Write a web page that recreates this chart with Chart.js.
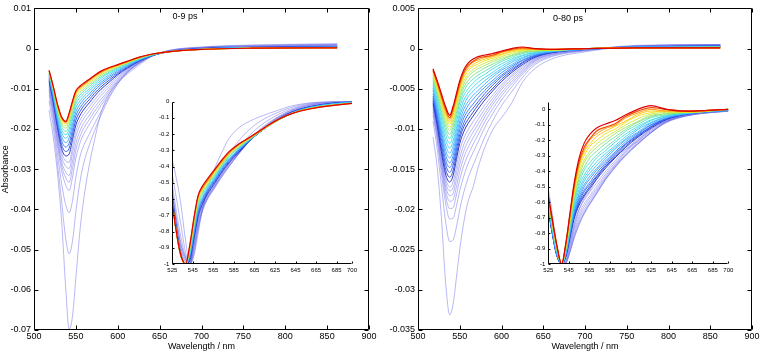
<!DOCTYPE html>
<html><head><meta charset="utf-8">
<script src="https://cdn.jsdelivr.net/npm/chart.js@4.4.1/dist/chart.umd.min.js"></script>
<style>
html,body{margin:0;padding:0;background:#fff;}
#wrap{position:relative;width:762px;height:354px;overflow:hidden;font-family:"Liberation Sans",Arial,sans-serif;background:#fff;}
canvas{position:absolute;}
.lbl{position:absolute;font-size:9px;color:#000;white-space:nowrap;transform:translate(-50%,-50%);}
</style></head><body>
<div id="wrap">
<canvas id="mainL" width="380" height="354" style="left:0;top:0;width:380px;height:354px"></canvas>
<canvas id="mainR" width="382" height="354" style="left:380px;top:0;width:382px;height:354px"></canvas>
<canvas id="insL" width="225" height="185" style="left:135px;top:95px;width:225px;height:185px"></canvas>
<canvas id="insR" width="230" height="185" style="left:510px;top:95px;width:230px;height:185px"></canvas>
<div class="lbl" style="left:185px;top:16px">0-9 ps</div>
<div class="lbl" style="left:568px;top:18px">0-80 ps</div>
</div>
<script>
// ---------- wavelength grid (nm) ----------
const wavelengths = [518,523,528,533,538,542,546,550,555,560,566,572,580,590,600,612,625,640,660,700,760,862];

// ---------- tick labels ----------
const mainXTicks = [500,550,600,650,700,750,800,850,900];
const leftYTicks = [0.01,0,-0.01,-0.02,-0.03,-0.04,-0.05,-0.06,-0.07];
const rightYTicks = [0.005,0,-0.005,-0.01,-0.015,-0.02,-0.025,-0.03,-0.035];
const insetXTicks = [525,545,565,585,605,625,645,665,685,700];
const insetYTicks = [0,-0.1,-0.2,-0.3,-0.4,-0.5,-0.6,-0.7,-0.8,-0.9,-1];

// ---------- left panel (0-9 ps), earliest first ----------
const L00 = [-153e-4,-220e-4,-310e-4,-430e-4,-600e-4,-698e-4,-665e-4,-570e-4,-450e-4,-365e-4,-290e-4,-230e-4,-160e-4,-112e-4,-85e-4,-62e-4,-42e-4,-20e-4,-5e-4,4e-4,9e-4,12e-4];
const L01 = [-130e-4,-195e-4,-285e-4,-380e-4,-475e-4,-510e-4,-478e-4,-405e-4,-330e-4,-280e-4,-240e-4,-206e-4,-166e-4,-122e-4,-88e-4,-59e-4,-38e-4,-19e-4,-5e-4,3e-4,8e-4,11e-4];
const L02 = [-115e-4,-178e-4,-260e-4,-336e-4,-390e-4,-408e-4,-378e-4,-320e-4,-268e-4,-238e-4,-213e-4,-188e-4,-156e-4,-118e-4,-86e-4,-58e-4,-37e-4,-19e-4,-6e-4,3e-4,7e-4,10e-4];
const L03 = [-106e-4,-165e-4,-240e-4,-304e-4,-340e-4,-353e-4,-320e-4,-272e-4,-234e-4,-210e-4,-189e-4,-168e-4,-142e-4,-111e-4,-83e-4,-57e-4,-37e-4,-19e-4,-6e-4,2e-4,6e-4,9e-4];
const L04 = [-100e-4,-158e-4,-230e-4,-291e-4,-322e-4,-333e-4,-298e-4,-252e-4,-218e-4,-196e-4,-177e-4,-157e-4,-134e-4,-106e-4,-80e-4,-56e-4,-36e-4,-19e-4,-7e-4,2e-4,5e-4,8e-4];
const L05 = [-95e-4,-152e-4,-222e-4,-281e-4,-308e-4,-316e-4,-280e-4,-236e-4,-204e-4,-184e-4,-166e-4,-147e-4,-126e-4,-101e-4,-77e-4,-54e-4,-35e-4,-19e-4,-7e-4,1e-4,5e-4,7e-4];
const L06 = [-90e-4,-146e-4,-214e-4,-269e-4,-293e-4,-298e-4,-260e-4,-219e-4,-190e-4,-172e-4,-155e-4,-137e-4,-117e-4,-95e-4,-73e-4,-52e-4,-34e-4,-19e-4,-8e-4,1e-4,4e-4,7e-4];
const L07 = [-86e-4,-140e-4,-206e-4,-259e-4,-280e-4,-283e-4,-244e-4,-205e-4,-178e-4,-161e-4,-145e-4,-128e-4,-109e-4,-89e-4,-69e-4,-50e-4,-33e-4,-19e-4,-8e-4,1e-4,4e-4,6e-4];
const L08 = [-81e-4,-133e-4,-197e-4,-249e-4,-267e-4,-262e-4,-226e-4,-190e-4,-166e-4,-150e-4,-135e-4,-119e-4,-101e-4,-83e-4,-65e-4,-48e-4,-32e-4,-18e-4,-8e-4,0,3e-4,5e-4];
const L09 = [-77e-4,-128e-4,-190e-4,-239e-4,-256e-4,-248e-4,-213e-4,-178e-4,-156e-4,-141e-4,-127e-4,-112e-4,-95e-4,-78e-4,-62e-4,-46e-4,-31e-4,-18e-4,-8e-4,0,3e-4,5e-4];
const L10 = [-73e-4,-123e-4,-183e-4,-229e-4,-245e-4,-235e-4,-201e-4,-167e-4,-147e-4,-133e-4,-120e-4,-105e-4,-89e-4,-73e-4,-59e-4,-44e-4,-30e-4,-18e-4,-8e-4,-1e-4,2e-4,4e-4];
const L11 = [-70e-4,-118e-4,-176e-4,-219e-4,-234e-4,-222e-4,-189e-4,-157e-4,-138e-4,-125e-4,-113e-4,-99e-4,-84e-4,-69e-4,-56e-4,-42e-4,-29e-4,-17e-4,-8e-4,-1e-4,2e-4,4e-4];
const L12 = [-67e-4,-114e-4,-169e-4,-210e-4,-223e-4,-210e-4,-178e-4,-147e-4,-130e-4,-118e-4,-106e-4,-93e-4,-79e-4,-65e-4,-53e-4,-40e-4,-28e-4,-17e-4,-8e-4,-1e-4,2e-4,3e-4];
const L13 = [-64e-4,-110e-4,-163e-4,-202e-4,-214e-4,-200e-4,-168e-4,-138e-4,-122e-4,-111e-4,-100e-4,-88e-4,-74e-4,-61e-4,-50e-4,-38e-4,-27e-4,-16e-4,-8e-4,-1e-4,2e-4,3e-4];
const L14 = [-62e-4,-106e-4,-157e-4,-194e-4,-206e-4,-190e-4,-159e-4,-130e-4,-115e-4,-105e-4,-94e-4,-83e-4,-70e-4,-58e-4,-48e-4,-37e-4,-26e-4,-16e-4,-8e-4,-2e-4,1e-4,3e-4];
const L15 = [-60e-4,-103e-4,-152e-4,-187e-4,-198e-4,-181e-4,-151e-4,-123e-4,-109e-4,-100e-4,-89e-4,-79e-4,-66e-4,-55e-4,-46e-4,-35e-4,-25e-4,-15e-4,-8e-4,-2e-4,1e-4,3e-4];
const L16 = [-58e-4,-100e-4,-147e-4,-181e-4,-192e-4,-174e-4,-144e-4,-117e-4,-104e-4,-95e-4,-85e-4,-75e-4,-63e-4,-52e-4,-44e-4,-34e-4,-24e-4,-15e-4,-8e-4,-2e-4,1e-4,2e-4];
const L17 = [-56e-4,-97e-4,-143e-4,-176e-4,-187e-4,-168e-4,-138e-4,-112e-4,-100e-4,-91e-4,-81e-4,-72e-4,-60e-4,-50e-4,-42e-4,-33e-4,-23e-4,-14e-4,-8e-4,-2e-4,1e-4,2e-4];
const L18 = [-55e-4,-95e-4,-140e-4,-172e-4,-183e-4,-163e-4,-133e-4,-108e-4,-96e-4,-88e-4,-78e-4,-69e-4,-58e-4,-48e-4,-41e-4,-32e-4,-22e-4,-14e-4,-8e-4,-2e-4,1e-4,2e-4];
const L19 = [-54e-4,-94e-4,-138e-4,-170e-4,-181e-4,-160e-4,-130e-4,-105e-4,-93e-4,-85e-4,-76e-4,-67e-4,-56e-4,-47e-4,-40e-4,-31e-4,-22e-4,-14e-4,-8e-4,-2e-4,1e-4,2e-4];

// ---------- right panel (0-80 ps), earliest first ----------
const R00 = [-110e-4,-148e-4,-210e-4,-290e-4,-331e-4,-318e-4,-285e-4,-250e-4,-215e-4,-190e-4,-172e-4,-148e-4,-123e-4,-100e-4,-86e-4,-68e-4,-42e-4,-25e-4,-13e-4,-4e-4,3e-4,5e-4];
const R01 = [-90e-4,-125e-4,-170e-4,-215e-4,-240e-4,-238e-4,-222e-4,-200e-4,-178e-4,-161e-4,-145e-4,-130e-4,-110e-4,-89e-4,-71e-4,-54e-4,-36e-4,-20e-4,-10e-4,-3e-4,4e-4,5e-4];
const R02 = [-83e-4,-115e-4,-155e-4,-192e-4,-212e-4,-211e-4,-196e-4,-177e-4,-158e-4,-143e-4,-129e-4,-116e-4,-98e-4,-80e-4,-64e-4,-48e-4,-32e-4,-18e-4,-9e-4,-2e-4,3e-4,5e-4];
const R03 = [-79e-4,-110e-4,-148e-4,-183e-4,-199e-4,-198e-4,-182e-4,-163e-4,-145e-4,-132e-4,-119e-4,-107e-4,-91e-4,-74e-4,-59e-4,-44e-4,-30e-4,-16e-4,-8e-4,-2e-4,3e-4,5e-4];
const R04 = [-76e-4,-106e-4,-143e-4,-176e-4,-190e-4,-188e-4,-172e-4,-153e-4,-135e-4,-123e-4,-111e-4,-100e-4,-85e-4,-69e-4,-55e-4,-41e-4,-28e-4,-15e-4,-7e-4,-2e-4,3e-4,4e-4];
const R05 = [-74e-4,-103e-4,-139e-4,-171e-4,-183e-4,-180e-4,-163e-4,-144e-4,-127e-4,-115e-4,-104e-4,-94e-4,-80e-4,-65e-4,-51e-4,-38e-4,-26e-4,-14e-4,-7e-4,-2e-4,3e-4,4e-4];
const R06 = [-72e-4,-100e-4,-135e-4,-166e-4,-177e-4,-173e-4,-155e-4,-136e-4,-119e-4,-108e-4,-98e-4,-88e-4,-75e-4,-61e-4,-48e-4,-35e-4,-24e-4,-13e-4,-6e-4,-1e-4,3e-4,4e-4];
const R07 = [-70e-4,-98e-4,-132e-4,-161e-4,-172e-4,-166e-4,-147e-4,-127e-4,-111e-4,-101e-4,-91e-4,-82e-4,-70e-4,-57e-4,-45e-4,-33e-4,-22e-4,-12e-4,-6e-4,-1e-4,2e-4,3e-4];
const R08 = [-68e-4,-95e-4,-128e-4,-156e-4,-166e-4,-158e-4,-138e-4,-118e-4,-103e-4,-93e-4,-84e-4,-75e-4,-64e-4,-52e-4,-41e-4,-30e-4,-20e-4,-11e-4,-5e-4,-1e-4,2e-4,3e-4];
const R09 = [-65e-4,-91e-4,-123e-4,-150e-4,-160e-4,-152e-4,-132e-4,-112e-4,-97e-4,-88e-4,-79e-4,-70e-4,-60e-4,-49e-4,-38e-4,-28e-4,-18e-4,-10e-4,-5e-4,-1e-4,2e-4,3e-4];
const R10 = [-62e-4,-87e-4,-118e-4,-144e-4,-154e-4,-145e-4,-126e-4,-107e-4,-92e-4,-82e-4,-74e-4,-66e-4,-56e-4,-45e-4,-35e-4,-26e-4,-17e-4,-9e-4,-4e-4,-1e-4,2e-4,3e-4];
const R11 = [-59e-4,-83e-4,-112e-4,-138e-4,-148e-4,-139e-4,-120e-4,-101e-4,-86e-4,-77e-4,-69e-4,-61e-4,-52e-4,-42e-4,-33e-4,-24e-4,-15e-4,-9e-4,-4e-4,-1e-4,2e-4,3e-4];
const R12 = [-56e-4,-79e-4,-107e-4,-132e-4,-142e-4,-133e-4,-114e-4,-95e-4,-81e-4,-71e-4,-63e-4,-56e-4,-48e-4,-39e-4,-30e-4,-22e-4,-14e-4,-8e-4,-4e-4,-1e-4,2e-4,2e-4];
const R13 = [-52e-4,-75e-4,-102e-4,-126e-4,-136e-4,-127e-4,-108e-4,-90e-4,-75e-4,-66e-4,-58e-4,-52e-4,-44e-4,-35e-4,-27e-4,-20e-4,-12e-4,-7e-4,-4e-4,-1e-4,2e-4,2e-4];
const R14 = [-49e-4,-71e-4,-97e-4,-120e-4,-130e-4,-121e-4,-102e-4,-84e-4,-70e-4,-60e-4,-53e-4,-47e-4,-40e-4,-32e-4,-25e-4,-17e-4,-11e-4,-6e-4,-3e-4,-1e-4,2e-4,2e-4];
const R15 = [-46e-4,-67e-4,-92e-4,-113e-4,-124e-4,-115e-4,-97e-4,-79e-4,-64e-4,-55e-4,-48e-4,-42e-4,-36e-4,-29e-4,-22e-4,-15e-4,-9e-4,-5e-4,-3e-4,0,1e-4,2e-4];
const R16 = [-43e-4,-63e-4,-86e-4,-107e-4,-118e-4,-108e-4,-91e-4,-73e-4,-58e-4,-50e-4,-43e-4,-37e-4,-32e-4,-25e-4,-19e-4,-13e-4,-8e-4,-5e-4,-3e-4,0,1e-4,2e-4];
const R17 = [-40e-4,-59e-4,-81e-4,-101e-4,-112e-4,-102e-4,-85e-4,-67e-4,-53e-4,-44e-4,-38e-4,-33e-4,-28e-4,-22e-4,-16e-4,-11e-4,-6e-4,-4e-4,-2e-4,0,1e-4,2e-4];
const R18 = [-37e-4,-56e-4,-77e-4,-96e-4,-107e-4,-97e-4,-80e-4,-63e-4,-48e-4,-40e-4,-33e-4,-29e-4,-24e-4,-19e-4,-14e-4,-9e-4,-5e-4,-3e-4,-2e-4,0,1e-4,2e-4];
const R19 = [-35e-4,-53e-4,-72e-4,-91e-4,-102e-4,-92e-4,-75e-4,-58e-4,-44e-4,-35e-4,-29e-4,-25e-4,-21e-4,-16e-4,-12e-4,-8e-4,-4e-4,-3e-4,-2e-4,0,1e-4,1e-4];
const R20 = [-33e-4,-50e-4,-69e-4,-87e-4,-98e-4,-88e-4,-71e-4,-54e-4,-40e-4,-32e-4,-26e-4,-22e-4,-18e-4,-14e-4,-10e-4,-6e-4,-3e-4,-2e-4,-2e-4,0,1e-4,1e-4];
const R21 = [-31e-4,-47e-4,-66e-4,-83e-4,-94e-4,-83e-4,-67e-4,-50e-4,-36e-4,-28e-4,-22e-4,-19e-4,-15e-4,-12e-4,-8e-4,-4e-4,-2e-4,-1e-4,-2e-4,0,1e-4,1e-4];
const R22 = [-29e-4,-45e-4,-63e-4,-80e-4,-91e-4,-80e-4,-64e-4,-48e-4,-33e-4,-25e-4,-20e-4,-16e-4,-13e-4,-10e-4,-7e-4,-3e-4,-1e-4,-1e-4,-1e-4,0,1e-4,1e-4];
const R23 = [-28e-4,-43e-4,-60e-4,-77e-4,-88e-4,-77e-4,-61e-4,-45e-4,-31e-4,-23e-4,-17e-4,-14e-4,-11e-4,-9e-4,-5e-4,-2e-4,0,-1e-4,-1e-4,0,1e-4,1e-4];
const R24 = [-27e-4,-42e-4,-59e-4,-75e-4,-86e-4,-75e-4,-59e-4,-43e-4,-29e-4,-21e-4,-16e-4,-12e-4,-10e-4,-8e-4,-4e-4,-1e-4,1e-4,0,-1e-4,0,1e-4,1e-4];
const R25 = [-25e-4,-40e-4,-56e-4,-72e-4,-83e-4,-72e-4,-56e-4,-40e-4,-26e-4,-18e-4,-13e-4,-10e-4,-8e-4,-6e-4,-3e-4,0,2e-4,0,-1e-4,0,1e-4,1e-4];

const leftSeries = [L00,L01,L02,L03,L04,L05,L06,L07,L08,L09,L10,L11,L12,L13,L14,L15,L16,L17,L18,L19];
const rightSeries = [R00,R01,R02,R03,R04,R05,R06,R07,R08,R09,R10,R11,R12,R13,R14,R15,R16,R17,R18,R19,R20,R21,R22,R23,R24,R25];

// ---------- styling ----------
const FONT = '"Liberation Sans", Arial, Helvetica, sans-serif';
const jetStops = [[0,[25,35,190]],[0.15,[40,100,250]],[0.3,[60,170,255]],[0.45,[60,220,235]],[0.58,[110,225,150]],[0.7,[200,235,60]],[0.8,[255,215,0]],[0.9,[255,130,0]],[1,[220,0,0]]];
function jet(t){
  for(let k=1;k<jetStops.length;k++){
    if(t<=jetStops[k][0]){
      const [t0,c0]=jetStops[k-1],[t1,c1]=jetStops[k];
      const f=(t-t0)/(t1-t0);
      return 'rgb('+c0.map((c,j)=>Math.round(c+(c1[j]-c)*f)).join(',')+')';
    }
  }
  return 'rgb(220,0,0)';
}
function colorFor(i,nLav,n){
  if(i<nLav) return 'rgba(110,110,235,0.62)';
  return jet((i-nLav)/(n-1-nLav));
}
function fmt(v){ return String(parseFloat(Number(v).toFixed(4))); }

function buildSets(series,nLav,normalize){
  const n=series.length;
  return series.map((vals,i)=>{
    const m=Math.abs(Math.min(...vals));
    return {
      data: wavelengths.map((w,j)=>({x:w,y: normalize ? vals[j]/m : vals[j]})),
      borderColor: colorFor(i,nLav,n),
      borderWidth: i<nLav ? 0.8 : (i>=n-2 ? 1.2 : 0.9),
      pointRadius: 0,
      fill: false,
      cubicInterpolationMode: 'monotone',
      order: n - i
    };
  });
}

const frameTicks = {
  id: 'frameTicks',
  afterDatasetsDraw(chart, args, opts){
    const {ctx, chartArea:a, scales:{x,y}} = chart;
    const L = opts.len || 4;
    const l=Math.round(a.left)+0.5, r=Math.round(a.right)-0.5, t=Math.round(a.top)+0.5, b=Math.round(a.bottom)-0.5;
    ctx.save();
    ctx.strokeStyle = '#000'; ctx.lineWidth = 1;
    ctx.beginPath();
    if(opts.box){ ctx.rect(l,t,r-l,b-t); }
    else { ctx.moveTo(l,t); ctx.lineTo(l,b); ctx.lineTo(r,b); }
    x.ticks.forEach(tk=>{
      const px=Math.round(x.getPixelForValue(tk.value))+0.5;
      ctx.moveTo(px,b); ctx.lineTo(px,b-L);
      if(opts.box){ ctx.moveTo(px,t); ctx.lineTo(px,t+L); }
    });
    y.ticks.forEach(tk=>{
      const py=Math.round(y.getPixelForValue(tk.value))+0.5;
      ctx.moveTo(l,py); ctx.lineTo(l+L,py);
      if(opts.box){ ctx.moveTo(r,py); ctx.lineTo(r-L,py); }
    });
    ctx.stroke(); ctx.restore();
  }
};

function makeChart(id, o){
  const axisFont = {family: FONT, size: o.fontSize};
  const xScale = {
    type:'linear', min:o.xmin, max:o.xmax,
    afterBuildTicks: s=>{ s.ticks = o.xticks.map(v=>({value:v})); },
    afterFit: s=>{ s.height = o.xHeight; },
    grid:{display:false, drawTicks:false}, border:{display:false},
    ticks:{font:axisFont, color:'#000', padding:o.xPad, maxRotation:0, autoSkip:false, callback:v=>fmt(v)}
  };
  if(o.xTitle) xScale.title = {display:true, text:o.xTitle, font:axisFont, color:'#000', padding:{top:0,bottom:2}};
  const yScale = {
    type:'linear', min:o.ymin, max:o.ymax,
    afterBuildTicks: s=>{ s.ticks = o.yticks.map(v=>({value:v})); },
    afterFit: s=>{ s.width = o.yWidth; },
    grid:{display:false, drawTicks:false}, border:{display:false},
    ticks:{font:axisFont, color:'#000', padding:3, autoSkip:false, callback:v=>fmt(v)}
  };
  if(o.yTitle) yScale.title = {display:true, text:o.yTitle, font:axisFont, color:'#000', padding:{top:0,bottom:0}};
  return new Chart(document.getElementById(id), {
    type:'line',
    data:{datasets:o.datasets},
    options:{
      responsive:false, animation:false, devicePixelRatio:1,
      layout:{padding:o.pad},
      plugins:{legend:{display:false}, tooltip:{enabled:false}, frameTicks:{box:o.box, len:o.tickLen}},
      scales:{x:xScale, y:yScale}
    },
    plugins:[frameTicks]
  });
}

makeChart('mainL', {
  datasets: buildSets(leftSeries, 8, false),
  xmin:500, xmax:900, xticks:mainXTicks, ymin:-0.07, ymax:0.01, yticks:leftYTicks,
  xHeight:24, yWidth:34, xPad:1, fontSize:9, pad:{top:4,right:11,left:0,bottom:0},
  xTitle:'Wavelength / nm', yTitle:'Absorbance', box:true, tickLen:4
});
makeChart('mainR', {
  datasets: buildSets(rightSeries, 8, false),
  xmin:500, xmax:900, xticks:mainXTicks, ymin:-0.035, ymax:0.005, yticks:rightYTicks,
  xHeight:24, yWidth:38, xPad:1, fontSize:9, pad:{top:4,right:10,left:0,bottom:0},
  xTitle:'Wavelength / nm', box:true, tickLen:4
});
makeChart('insL', {
  datasets: buildSets(leftSeries, 8, true),
  xmin:525, xmax:700, xticks:insetXTicks, ymin:-1, ymax:0, yticks:insetYTicks,
  xHeight:16, yWidth:37.3, xPad:3, fontSize:6, pad:{top:5.7,right:7.7,left:0,bottom:0},
  box:false, tickLen:2
});
makeChart('insR', {
  datasets: buildSets(rightSeries, 8, true),
  xmin:525, xmax:700, xticks:insetXTicks, ymin:-1, ymax:0.05, yticks:insetYTicks,
  xHeight:16, yWidth:38.3, xPad:3, fontSize:6, pad:{top:6.25,right:11.7,left:0,bottom:0},
  box:false, tickLen:2
});
</script>
</body></html>
